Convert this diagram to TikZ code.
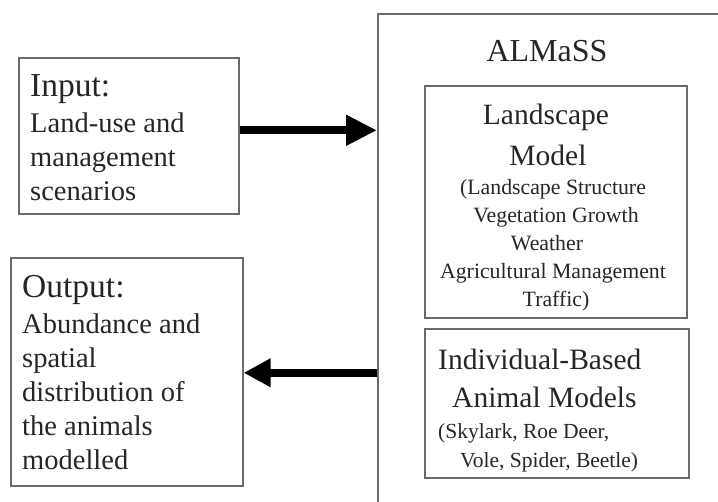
\documentclass[tikz,border=0pt]{standalone}
\usepackage{fontspec}
\setmainfont{Liberation Serif}
\usetikzlibrary{arrows.meta}
\definecolor{frame}{gray}{0.42}
\newcommand{\fs}[1]{\fontsize{#1}{#1}\selectfont}
\begin{document}
\begin{tikzpicture}[x=1pt,y=-1pt,
  panel/.style={draw=frame, line width=1.6pt, rectangle, inner sep=0pt, anchor=north west},
  txt/.style={inner sep=0pt, text=black!85},
  lbl/.style={txt, anchor=base west},
  ctr/.style={txt, anchor=base},
  bigarrow/.style={line width=8pt, draw=black}
]
\useasboundingbox (0,0) rectangle (718,502);

% boxes
\node[panel, minimum width=220pt, minimum height=156pt] (input) at (18,57) {};
\node[panel, minimum width=232pt, minimum height=228pt] (output) at (10,257) {};
\node[panel, minimum width=420pt, minimum height=520pt] (almass) at (377,13) {};
\node[panel, minimum width=262pt, minimum height=232pt] (land) at (424,85) {};
\node[panel, minimum width=264pt, minimum height=149pt] (ibm) at (424,328) {};

% input text
\node[lbl, font=\fs{33.5}] (inhead) at (30,97) {Input:};
\node[lbl, font=\fs{28.5}] (in1) at (30,133) {Land-use and};
\node[lbl, font=\fs{28.5}] (in2) at (30,167) {management};
\node[lbl, font=\fs{28.5}] (in3) at (30,201) {scenarios};

% output text
\node[lbl, font=\fs{33.5}] (outhead) at (22,298) {Output:};
\node[lbl, font=\fs{28.5}] (out1) at (22,334) {Abundance and};
\node[lbl, font=\fs{28.5}] (out2) at (22,368) {spatial};
\node[lbl, font=\fs{28.5}] (out3) at (22,402) {distribution of};
\node[lbl, font=\fs{28.5}] (out4) at (22,436) {the animals};
\node[lbl, font=\fs{28.5}] (out5) at (22,470) {modelled};

% ALMaSS title
\node[ctr, font=\fs{32}] (title) at (547,62) {ALMaSS};

% landscape model
\node[ctr, font=\fs{29.5}] (land1) at (546,125) {Landscape};
\node[ctr, font=\fs{29.5}] (land2) at (548,166) {Model};
\node[ctr, font=\fs{21.8}] (land3) at (553,195) {(Landscape Structure};
\node[ctr, font=\fs{21.8}] (land4) at (556,223) {Vegetation Growth};
\node[ctr, font=\fs{21.8}] (land5) at (547,251) {Weather};
\node[ctr, font=\fs{21.8}] (land6) at (553,279) {Agricultural Management};
\node[ctr, font=\fs{21.8}] (land7) at (556,307) {Traffic)};

% individual-based models
\node[lbl, font=\fs{29.5}] (ibm1) at (438,370) {Individual-Based};
\node[lbl, font=\fs{29.5}] (ibm2) at (452,408) {Animal Models};
\node[lbl, font=\fs{21.5}] (ibm3) at (438,439) {(Skylark, Roe Deer,};
\node[lbl, font=\fs{21.5}] (ibm4) at (460,468) {Vole, Spider, Beetle)};

% connectors
\coordinate (inA) at ([yshift=5.5pt]input.east);
\coordinate (outA) at ([yshift=-1pt]output.east);
\draw[bigarrow, -{Triangle[length=31pt,width=29pt]}] (inA) -- (inA -| almass.west);
\draw[bigarrow, -{Triangle[length=27pt,width=27pt]}] (outA -| almass.west) -- (outA);
\end{tikzpicture}
\end{document}
